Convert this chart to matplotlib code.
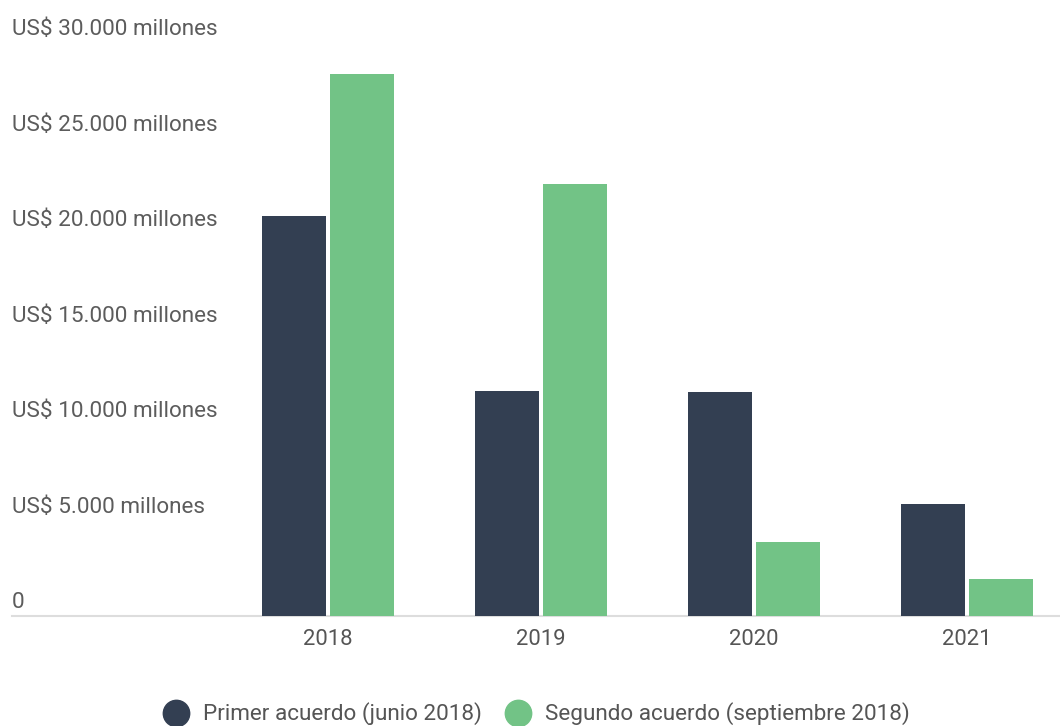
import matplotlib
matplotlib.use("Agg")
import matplotlib.pyplot as plt
from matplotlib.lines import Line2D
import numpy as np

years = ["2018", "2019", "2020", "2021"]
primer = [20970, 11800, 11750, 5900]
segundo = [28400, 22600, 3900, 1950]
series_names = ["Primer acuerdo (junio 2018)", "Segundo acuerdo (septiembre 2018)"]
ytick_vals = [0, 5000, 10000, 15000, 20000, 25000, 30000]
ytick_labels = ["0", "US$ 5.000 millones", "US$ 10.000 millones", "US$ 15.000 millones",
                "US$ 20.000 millones", "US$ 25.000 millones", "US$ 30.000 millones"]

DARK = "#333f52"
GREEN = "#72c386"

plt.rcParams['font.family'] = ['Roboto', 'DejaVu Sans']

W, H = 1060, 726
fig = plt.figure(figsize=(W / 100, H / 100), dpi=100)
ax = fig.add_axes([12 / W, (H - 616.3) / H, (W - 12) / W, (616.3 - 43) / H])

x = np.arange(len(years))
bw = 0.30
ax.bar(x - 0.158, primer, bw, color=DARK, edgecolor='none', zorder=3)
ax.bar(x + 0.158, segundo, bw, color=GREEN, edgecolor='none', zorder=3)

ax.set_xlim(-1.4836, 3.4366)
ax.set_ylim(0, 30000)

for s in ax.spines.values():
    s.set_visible(False)
ax.axhline(0, color='#dddddd', lw=1.5, zorder=2, clip_on=False)

ax.set_yticks([])
ax.set_xticks(x)
ax.set_xticklabels(years, fontsize=15.8, color='#555555')
ax.tick_params(axis='x', length=0, pad=9)

for v, lab in zip(ytick_vals, ytick_labels):
    ax.annotate(lab, xy=(0, v), xycoords=('axes fraction', 'data'),
                xytext=(0, 8), textcoords='offset pixels',
                ha='left', va='baseline', fontsize=16.2, color='#5c5c5c')

handles = [Line2D([], [], marker='o', ls='none', markersize=19, color=DARK),
           Line2D([], [], marker='o', ls='none', markersize=19, color=GREEN)]
fig.legend(handles, series_names, loc='center', bbox_to_anchor=(536 / W, 1 - 714 / H),
           ncol=2, frameon=False, fontsize=16.2, labelcolor='#555555',
           handletextpad=0.6, columnspacing=1.0, handlelength=1.2)

fig.savefig("out.png", dpi=100, facecolor='white')
